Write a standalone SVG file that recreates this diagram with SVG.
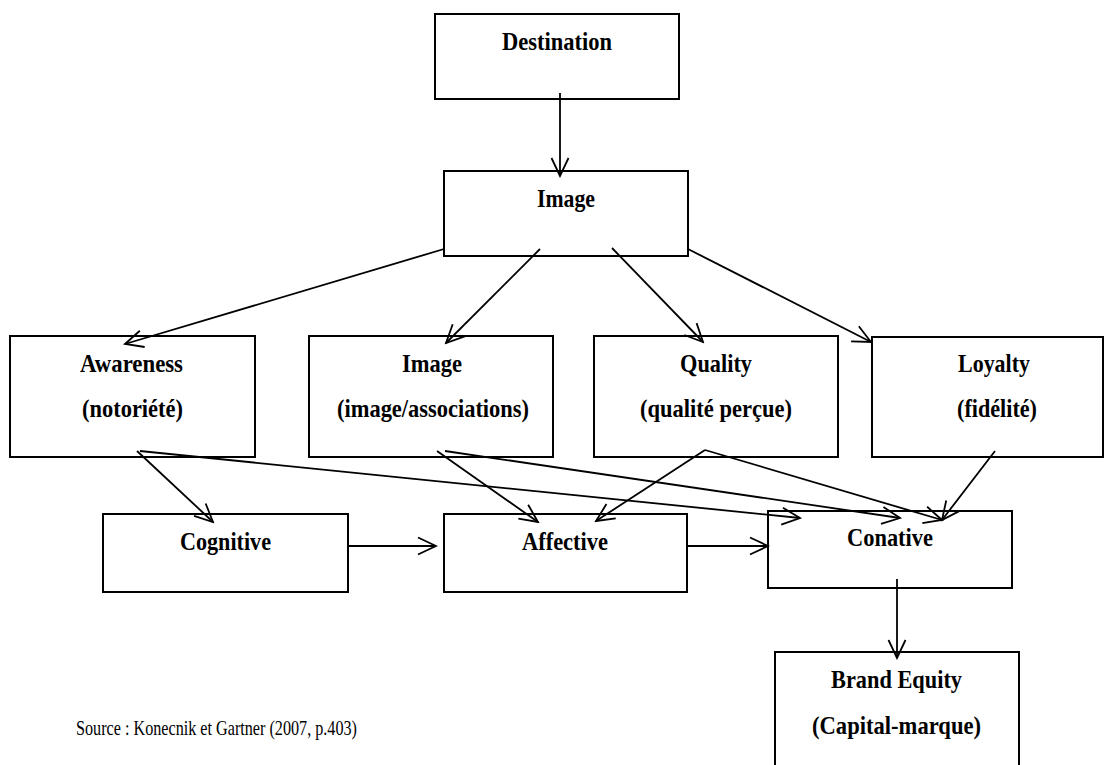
<svg xmlns="http://www.w3.org/2000/svg" width="1110" height="765" viewBox="0 0 1110 765">
<defs>
<style>
.box{fill:#fff;stroke:#000;stroke-width:2}
.lbl{font-family:"Liberation Serif","Times New Roman",serif;font-weight:bold;font-size:26px;fill:#000}
.src{font-family:"Liberation Serif","Times New Roman",serif;font-size:21px;fill:#000}
.con line{stroke:#000;stroke-width:1.8;marker-end:url(#arr)}
</style>
<marker id="arr" viewBox="-20 -10 22 20" refX="0" refY="0" markerWidth="22" markerHeight="20" markerUnits="userSpaceOnUse" orient="auto">
<path d="M-18,-8.5 L0,0 L-18,8.5" fill="none" stroke="#000" stroke-width="1.8"/>
</marker>
</defs>
<rect width="1110" height="765" fill="#fff"/>
<g id="destination"><rect class="box" x="435" y="14" width="244" height="85"/><text class="lbl" x="502" y="50" textLength="110" lengthAdjust="spacingAndGlyphs">Destination</text></g>
<g id="image"><rect class="box" x="444" y="171" width="244" height="85"/><text class="lbl" x="537" y="207" textLength="58" lengthAdjust="spacingAndGlyphs">Image</text></g>
<g id="awareness"><rect class="box" x="10" y="336" width="245" height="121"/><text class="lbl" x="80" y="372" textLength="103" lengthAdjust="spacingAndGlyphs">Awareness</text><text class="lbl" x="82" y="417" textLength="101" lengthAdjust="spacingAndGlyphs">(notoriété)</text></g>
<g id="image-associations"><rect class="box" x="309" y="336" width="244" height="121"/><text class="lbl" x="402" y="372" textLength="60" lengthAdjust="spacingAndGlyphs">Image</text><text class="lbl" x="337" y="417" textLength="192" lengthAdjust="spacingAndGlyphs">(image/associations)</text></g>
<g id="quality"><rect class="box" x="594" y="336" width="244" height="121"/><text class="lbl" x="680" y="372" textLength="72" lengthAdjust="spacingAndGlyphs">Quality</text><text class="lbl" x="640" y="417" textLength="152" lengthAdjust="spacingAndGlyphs">(qualité perçue)</text></g>
<g id="loyalty"><rect class="box" x="872" y="337" width="231" height="120"/><text class="lbl" x="958" y="372" textLength="72" lengthAdjust="spacingAndGlyphs">Loyalty</text><text class="lbl" x="957" y="417" textLength="80" lengthAdjust="spacingAndGlyphs">(fidélité)</text></g>
<g id="cognitive"><rect class="box" x="103" y="514" width="245" height="78"/><text class="lbl" x="180" y="550" textLength="91" lengthAdjust="spacingAndGlyphs">Cognitive</text></g>
<g id="affective"><rect class="box" x="444" y="514" width="243" height="78"/><text class="lbl" x="522" y="550" textLength="86" lengthAdjust="spacingAndGlyphs">Affective</text></g>
<g id="conative"><rect class="box" x="768" y="511" width="244" height="77"/><text class="lbl" x="847" y="546" textLength="86" lengthAdjust="spacingAndGlyphs">Conative</text></g>
<g id="brand-equity"><rect class="box" x="775" y="652" width="244" height="116"/><text class="lbl" x="831" y="688" textLength="131" lengthAdjust="spacingAndGlyphs">Brand Equity</text><text class="lbl" x="812" y="734" textLength="169" lengthAdjust="spacingAndGlyphs">(Capital-marque)</text></g>
<g id="source"><text class="src" x="76" y="735" textLength="281" lengthAdjust="spacingAndGlyphs">Source : Konecnik et Gartner (2007, p.403)</text></g>
<g id="connectors" class="con">
<line x1="560" y1="93" x2="560" y2="176"/>
<line x1="444" y1="249" x2="125" y2="344"/>
<line x1="540" y1="249" x2="446" y2="343"/>
<line x1="612" y1="248" x2="703" y2="342"/>
<line x1="688" y1="249" x2="871" y2="342"/>
<line x1="137" y1="451" x2="213" y2="522"/>
<line x1="140" y1="451" x2="800" y2="518"/>
<line x1="437" y1="451" x2="538" y2="522"/>
<line x1="445" y1="451" x2="900" y2="518"/>
<line x1="705" y1="450" x2="596" y2="521"/>
<line x1="705" y1="450" x2="942" y2="520"/>
<line x1="995" y1="451" x2="942" y2="520"/>
<line x1="348" y1="546" x2="436" y2="546"/>
<line x1="687" y1="546" x2="768" y2="546"/>
<line x1="897" y1="579" x2="897" y2="658"/>
</g>
</svg>
